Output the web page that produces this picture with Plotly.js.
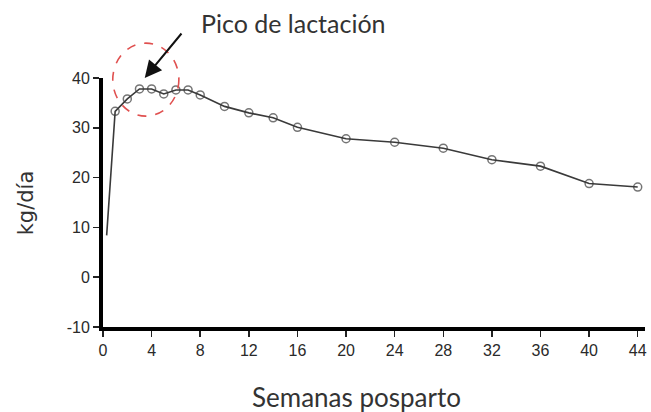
<!DOCTYPE html>
<html>
<head>
<meta charset="utf-8">
<script src="https://cdn.plot.ly/plotly-3.0.1.min.js"></script>
<style>html,body{margin:0;padding:0;background:#fff;}#chart{width:651px;height:412px;}</style>
</head>
<body>
<div id="chart"></div>
<script>
// Lactation curve data
const weeks = [0.3, 1, 2, 3, 4, 5, 6, 7, 8, 10, 12, 14, 16, 20, 24, 28, 32, 36, 40, 44];
const milkKg = [8.4, 33.3, 35.8, 37.8, 37.8, 36.8, 37.6, 37.6, 36.6, 34.3, 33, 32, 30.1, 27.8, 27.1, 25.9, 23.6, 22.3, 18.8, 18.1];
const xTicks = [0, 4, 8, 12, 16, 20, 24, 28, 32, 36, 40, 44];
const yTicks = [-10, 0, 10, 20, 30, 40];
const peakLabel = "Pico de lactación";
const xTitle = "Semanas posparto";
const yTitle = "kg/día";

const trace = {
  x: weeks, y: milkKg, type: 'scatter', mode: 'lines+markers',
  line: {color: '#3a3a3a', width: 1.6},
  marker: {symbol: 'circle-open', color: '#3a3a3a', size: weeks.map((w, i) => i === 0 ? 0 : 8), line: {width: 1.5}},
  cliponaxis: false, hoverinfo: 'skip'
};

const tickFont = {family: 'Liberation Sans, Arial, sans-serif', size: 16, color: '#2a2a2a'};
const layout = {
  width: 651, height: 412,
  margin: {l: 103, r: 6, t: 78, b: 85},
  paper_bgcolor: '#fff', plot_bgcolor: '#fff',
  showlegend: false,
  xaxis: {
    range: [0, 44.6], tickvals: xTicks, ticktext: xTicks.map(String),
    showgrid: false, zeroline: false,
    showline: true, linecolor: '#000', linewidth: 4,
    ticks: 'outside', ticklen: 6, tickwidth: 1.5, tickcolor: '#222',
    tickfont: tickFont
  },
  yaxis: {
    range: [-10, 40], tickvals: yTicks, ticktext: yTicks.map(String),
    showgrid: false, zeroline: false,
    showline: true, linecolor: '#000', linewidth: 4,
    ticks: 'outside', ticklen: 6, tickwidth: 1.5, tickcolor: '#222',
    tickfont: tickFont
  },
  shapes: [{
    type: 'circle', xref: 'paper', yref: 'paper',
    x0: 0.018, x1: 0.14, y0: 0.847, y1: 1.14,
    line: {color: '#e0504f', width: 1.6, dash: 'dash'}
  }],
  annotations: [
    {text: peakLabel, xref: 'paper', yref: 'paper', x: 0.351, y: 1.221, xanchor: 'center', yanchor: 'middle', showarrow: false,
     font: {family: 'Lato, sans-serif', size: 25, color: '#333'}},
    {text: xTitle, xref: 'paper', yref: 'paper', x: 0.467, y: -0.281, xanchor: 'center', yanchor: 'middle', showarrow: false,
     font: {family: 'Lato, sans-serif', size: 26, color: '#333'}},
    {text: yTitle, xref: 'paper', yref: 'paper', x: -0.1415, y: 0.498, xanchor: 'center', yanchor: 'middle', textangle: -90, showarrow: false,
     font: {family: 'DejaVu Sans, sans-serif', size: 21, color: '#333'}},
    {text: '', xref: 'paper', yref: 'paper', x: 0.077, y: 1.0, showarrow: true,
     ax: 38, ay: -46, arrowhead: 2, arrowsize: 1.7, arrowwidth: 2, arrowcolor: '#111'}
  ]
};

Plotly.newPlot('chart', [trace], layout, {displayModeBar: false, staticPlot: true});
</script>
</body>
</html>
